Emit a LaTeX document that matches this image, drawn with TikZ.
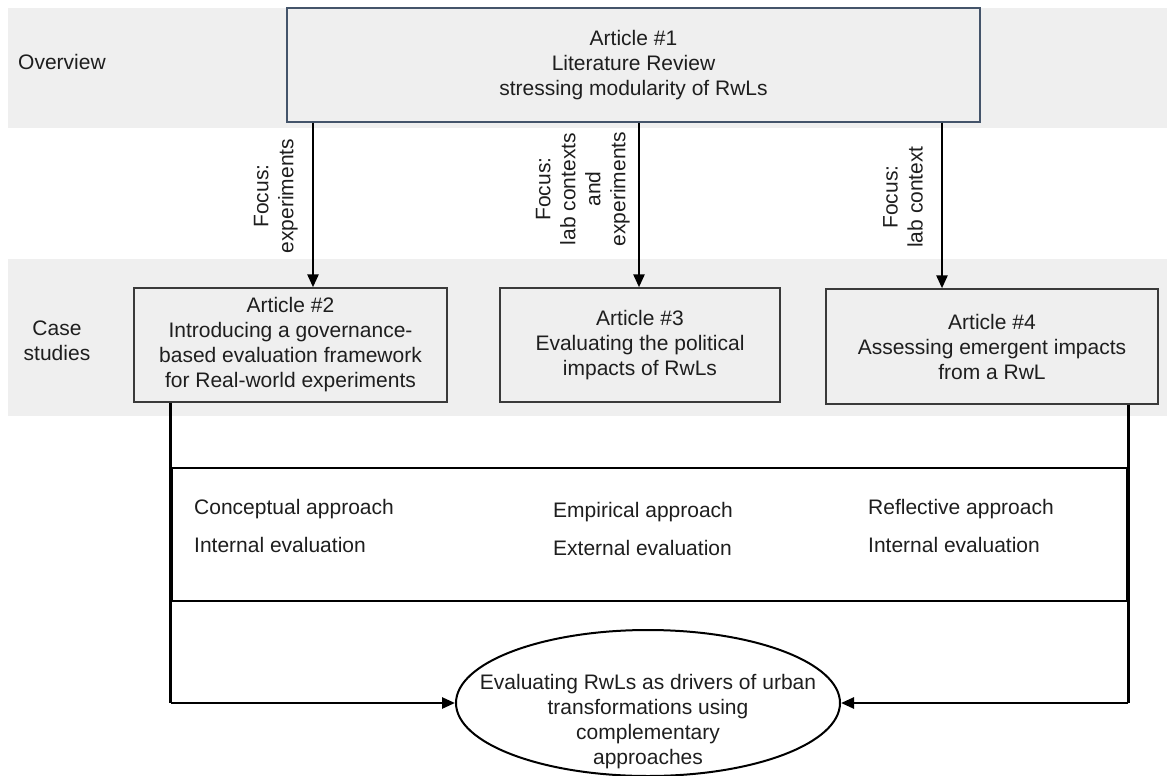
\documentclass[tikz,border=0pt]{standalone}
\usepackage{fontspec}
\setmainfont{Liberation Sans}
\usetikzlibrary{arrows.meta,shapes.geometric}

\definecolor{bandgray}{RGB}{239,239,239}
\definecolor{slateline}{RGB}{68,84,106}
\definecolor{boxline}{RGB}{58,58,58}
\definecolor{inktext}{RGB}{30,30,30}

\tikzset{
  band/.style={fill=bandgray, draw=none},
  article/.style={draw=boxline, line width=1.4pt, fill=bandgray, align=center,
    inner sep=0pt, text=inktext, font=\fontsize{21}{25}\selectfont},
  overviewbox/.style={article, draw=slateline},
  flow/.style={line width=2.6pt, -{Triangle[length=13pt,width=11pt]}},
  link/.style={line width=2.6pt},
  focuslabel/.style={rotate=90, anchor=south, inner sep=0pt, align=center,
    text=inktext, font=\fontsize{21}{25}\selectfont},
  rowlabel/.style={inner sep=0pt, align=center, text=inktext,
    font=\fontsize{21}{25}\selectfont},
  approach/.style={anchor=base west, inner sep=0pt, text=inktext,
    font=\fontsize{21}{25}\selectfont},
}

\begin{document}
\begin{tikzpicture}[x=1pt, y=-1pt]
  \useasboundingbox (0,0) rectangle (1167,776);

  % background bands
  \fill[band] (8,8) rectangle (1167,128);
  \fill[band] (8,259) rectangle (1167,416);

  % row titles
  \node[rowlabel, anchor=west] (ovtitle) at (18,62) {Overview};
  \node[rowlabel] (cstitle) at (57,341) {Case\\studies};

  % articles
  \node[overviewbox, minimum width=693pt, minimum height=114pt] (a1) at (633.5,65)
    {Article \#1\\Literature Review\\stressing modularity of RwLs};
  \node[article, minimum width=313pt, minimum height=114pt] (a2) at (290.5,345)
    {Article \#2\\Introducing a governance-\\based evaluation framework\\for Real-world experiments};
  \node[article, minimum width=280pt, minimum height=114pt] (a3) at (640,345)
    {Article \#3\\Evaluating the political\\impacts of RwLs};
  \node[article, minimum width=332pt, minimum height=115pt] (a4) at (992,346.5)
    {Article \#4\\Assessing emergent impacts\\from a RwL};

  % focus arrows
  \draw[flow] (a1.south -| 313,0) -- (a2.north -| 313,0);
  \draw[flow] (a1.south -| 639,0) -- (a3.north -| 639,0);
  \draw[flow] (a1.south -| 942,0) -- (a4.north -| 942,0);

  \node[focuslabel] (f1) at (298,196) {Focus:\\experiments};
  \node[focuslabel] (f2) at (630,189) {Focus:\\lab contexts\\and\\experiments};
  \node[focuslabel] (f3) at (923,197) {Focus:\\lab context};

  % approaches frame
  \node[draw=black, line width=2.6pt, minimum width=955pt, minimum height=133pt,
        inner sep=0pt] (frame) at (649.5,534.5) {};

  \node[approach] (c1a) at (194,514) {Conceptual approach};
  \node[approach] (c1b) at (194,552) {Internal evaluation};
  \node[approach] (c2a) at (553,517) {Empirical approach};
  \node[approach] (c2b) at (553,555) {External evaluation};
  \node[approach] (c3a) at (868,514) {Reflective approach};
  \node[approach] (c3b) at (868,552) {Internal evaluation};

  % synthesis
  \node[ellipse, draw=black, line width=2pt, minimum width=384pt,
        minimum height=146pt, inner sep=0pt] (goal) at (648,703) {};
  \node[rowlabel] (goaltext) at (648,722)
    {Evaluating RwLs as drivers of urban\\transformations using\\complementary\\approaches};

  % connections to synthesis
  \draw[link] (a2.south -| frame.west) -- (frame.west |- goal.west);
  \draw[flow] (frame.west |- goal.west) -- (goal.west);
  \draw[link] (a4.south -| frame.east) -- (frame.east |- goal.east);
  \draw[flow] (frame.east |- goal.east) -- (goal.east);
\end{tikzpicture}
\end{document}
